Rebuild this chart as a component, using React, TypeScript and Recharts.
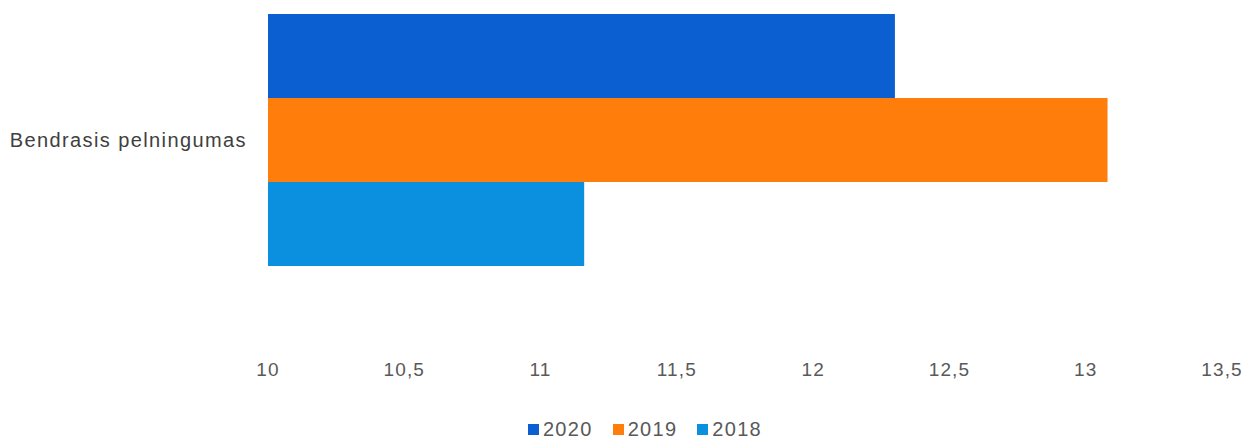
import { BarChart, Bar, XAxis, YAxis, Legend } from "recharts";

const categories = ["Bendrasis pelningumas"];
const values2020 = [12.3];
const values2019 = [13.08];
const values2018 = [11.16];
const xTicks = [10, 10.5, 11, 11.5, 12, 12.5, 13, 13.5];

const seriesNames = ["2020", "2019", "2018"];
const seriesColors = ["#0b5fd1", "#ff7d0b", "#0b90e0"];

const data = categories.map((name, i) => ({
  name,
  y2020: values2020[i],
  y2019: values2019[i],
  y2018: values2018[i],
}));

const fmt = (v: number) => String(v).replace(".", ",");

const LegendContent = () => (
  <div style={{ display: "flex", justifyContent: "center", gap: 20, fontSize: 20, letterSpacing: 1.3, color: "#595959", paddingLeft: 68 }}>
    {seriesNames.map((n, i) => (
      <div key={n} style={{ display: "flex", alignItems: "center", gap: 4 }}>
        <span style={{ width: 11, height: 11, background: seriesColors[i], display: "inline-block" }} />
        <span>{n}</span>
      </div>
    ))}
  </div>
);

export default function App() {
  return (
    <div style={{ position: "absolute", left: 0, top: 0, background: "#fff", fontFamily: "'Liberation Sans', Arial, sans-serif" }}>
      <BarChart
        width={1242}
        height={441}
        data={data}
        layout="vertical"
        margin={{ top: 0, right: 20, left: 0, bottom: 0 }}
        barCategoryGap={14}
        barGap={0}
      >
        <XAxis
          type="number"
          domain={[10, 13.5]}
          ticks={xTicks}
          tickFormatter={fmt}
          axisLine={false}
          tickLine={false}
          tickMargin={78}
          height={139}
          tick={{ fill: "#595959", fontSize: 19, letterSpacing: 1.1 }}
          allowDataOverflow
        />
        <YAxis
          type="category"
          dataKey="name"
          width={268}
          axisLine={false}
          tickLine={false}
          tickMargin={15}
          tick={{ fill: "#404040", fontSize: 20, letterSpacing: 1.4 }}
        />
        <Legend verticalAlign="bottom" align="center" content={<LegendContent />} />
        <Bar dataKey="y2020" name="2020" fill={seriesColors[0]} isAnimationActive={false} />
        <Bar dataKey="y2019" name="2019" fill={seriesColors[1]} isAnimationActive={false} />
        <Bar dataKey="y2018" name="2018" fill={seriesColors[2]} isAnimationActive={false} />
      </BarChart>
    </div>
  );
}
